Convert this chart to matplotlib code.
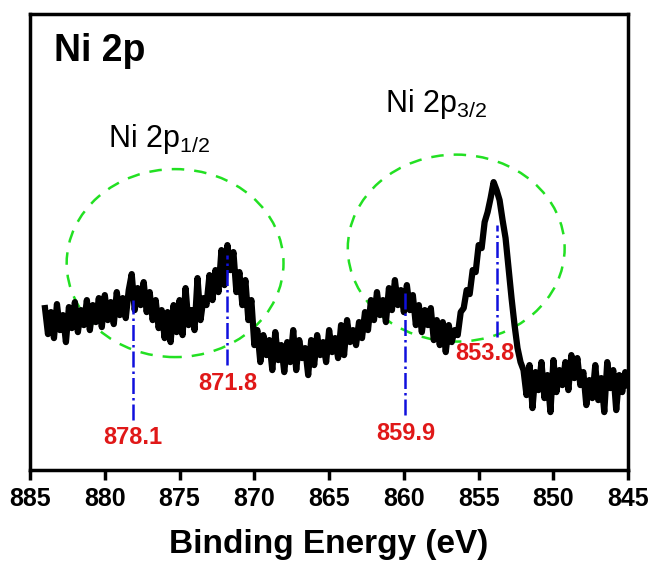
import numpy as np
import matplotlib
matplotlib.use("Agg")
import matplotlib.pyplot as plt
from matplotlib.patches import Ellipse

plt.rcParams['font.family'] = ['Liberation Sans', 'DejaVu Sans']
plt.rcParams['mathtext.default'] = 'regular'

# XPS Ni 2p spectrum, 0.2 eV step from 884 to 845 eV (intensity in arb. units)
energy = np.linspace(884.0, 845.0, 196)
intensity = [
    162, 136, 158, 132, 166, 140, 155, 128, 163, 142,
    168, 138, 160, 145, 170, 140, 165, 148, 172, 143,
    175, 150, 168, 146, 178, 155, 172, 152, 180, 196,
    160, 182, 165, 188, 158, 178, 150, 170, 142, 160,
    132, 158, 128, 165, 138, 170, 135, 182, 145, 160,
    140, 192, 150, 172, 165, 195, 170, 200, 178, 220,
    185, 225, 200, 218, 178, 198, 165, 190, 150, 170,
    125, 140, 108, 135, 115, 130, 100, 138, 110, 125,
    98, 128, 108, 140, 100, 130, 112, 122, 95, 130,
    105, 135, 115, 128, 108, 140, 118, 132, 112, 145,
    115, 150, 128, 140, 125, 148, 132, 158, 140, 170,
    150, 178, 155, 170, 148, 182, 160, 190, 165, 180,
    158, 185, 160, 175, 145, 165, 138, 160, 145, 162,
    130, 150, 125, 148, 118, 145, 128, 140, 135, 158,
    162, 180, 176, 200, 198, 225, 222, 248, 258, 272,
    288, 280, 270, 250, 232, 202, 172, 145, 122, 108,
    100, 75, 105, 62, 98, 80, 108, 72, 95, 58,
    110, 78, 100, 85, 108, 80, 115, 92, 112, 85,
    98, 65, 90, 72, 105, 70, 92, 58, 108, 82,
    100, 60, 95, 78, 98, 85,
]

# peak markers: position, line top, line bottom, label position
peaks = [878.1, 871.8, 859.9, 853.8]
peak_top = [170, 215, 180, 245]
peak_bottom = [50, 105, 55, 133]
label_x = [878.1, 871.8, 859.9, 854.6]
label_y = [33, 87, 37, 117]

# the two highlighted regions (centre x, centre y, width, height)
regions = [(875.3, 207, 14.5, 188), (856.5, 222, 14.5, 187)]

fig = plt.figure(figsize=(6.53, 5.65), dpi=100)
ax = fig.add_axes([0.046, 0.168, 0.916, 0.807])

ax.plot(energy, intensity, color='black', lw=4.5, solid_joinstyle='round')

for (cx, cy, w, h) in regions:
    ax.add_patch(Ellipse((cx, cy), w, h, fill=False, edgecolor='#22e022',
                         lw=1.8, ls=(0, (5, 4))))

for e, top, bot, lx, ly in zip(peaks, peak_top, peak_bottom, label_x, label_y):
    ax.plot([e, e], [bot, top], color='#1010dd', lw=1.8, ls='-.')
    ax.text(lx, ly, '%.1f' % e, color='#e01818', fontsize=17, fontweight='bold',
            ha='center', va='center')

ax.text(0.04, 0.92, 'Ni 2p', transform=ax.transAxes, fontsize=27,
        fontweight='bold', va='center', ha='left')
ax.text(879.8, 323, 'Ni 2p$_{1/2}$', fontsize=22, ha='left', va='baseline')
ax.text(861.25, 358, 'Ni 2p$_{3/2}$', fontsize=22, ha='left', va='baseline')

ax.set_xlim(885, 845)
ax.set_ylim(0, 456)
ax.set_xticks(np.arange(885, 844, -5))
ax.set_yticks([])
ax.tick_params(axis='x', direction='out', length=7, width=2.5, pad=5)
for lab in ax.get_xticklabels():
    lab.set_fontsize(18)
    lab.set_fontweight('bold')
for sp in ax.spines.values():
    sp.set_linewidth(2.5)

ax.set_xlabel('Binding Energy (eV)', fontsize=24, fontweight='bold', labelpad=13)

fig.savefig('out.png', dpi=100)
